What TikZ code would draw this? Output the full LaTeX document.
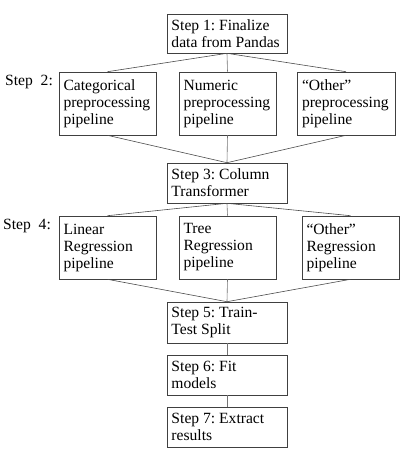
\documentclass[tikz,border=0pt]{standalone}
\usepackage{fontspec}
\setmainfont{Liberation Serif}
\usetikzlibrary{positioning}
\frenchspacing

\begin{document}
\begin{tikzpicture}[x=1pt, y=-1pt,
	stepbox/.style={draw=black!75, line width=0.6pt, inner xsep=4.5pt, align=flush left,
		font=\fontsize{15.6}{17}\selectfont, anchor=center},
	wide/.style={stepbox, minimum width=120pt, text width=111pt, minimum height=40pt},
	pipe/.style={stepbox, minimum width=97pt, text width=88pt, minimum height=63pt},
	link/.style={draw=black!70, line width=0.6pt},
	steplabel/.style={anchor=west, inner sep=0pt, font=\fontsize{15.6}{17}\selectfont}]
			%%%%% START %%%%%
			
			\useasboundingbox (0, 0) rectangle (410, 459);
			
			\node[wide, minimum height=39pt] (fin) at (227, 33.5) {Step 1: Finalize\\data from Pandas};
			
			\node[steplabel] (lbltwo) at (5, 82) {Step\ \ 2:};
			\node[pipe] (cat) at (107.5, 103.5) {Categorical\\preprocessing\\pipeline};
			\node[pipe] (num) at (227.5, 103.5) {Numeric\\preprocessing\\pipeline};
			\node[pipe, minimum width=98pt] (othpre) at (346, 103.5) {``Other''\\preprocessing\\pipeline};
			
			\node[wide] (coltr) at (227, 183) {Step 3: Column\\Transformer};
			
			\node[steplabel] (lblfour) at (3, 226) {Step\ \ 4:};
			\node[pipe] (lin) at (107.5, 247.5) {Linear\\Regression\\pipeline};
			\node[pipe] (tree) at (227.5, 247.5) {Tree\\Regression\\pipeline};
			\node[pipe] (othreg) at (350.5, 247.5) {``Other''\\Regression\\pipeline};
			
			\node[wide, minimum height=41pt] (split) at (227, 322.5) {Step 5: Train-\\Test Split};
			\node[wide] (fit) at (227, 375) {Step 6: Fit\\models};
			\node[wide] (res) at (227, 427) {Step 7: Extract\\results};
			
			\draw[link] (fin.south) -- (cat.north);
			\draw[link, draw=black!55] (fin.south) -- (num.north);
			\draw[link] (fin.south) -- (othpre.north);
			
			\draw[link] (cat.south) -- (coltr.north);
			\draw[link, draw=black!55] (num.south) -- (coltr.north);
			\draw[link] (othpre.south) -- (coltr.north);
			
			\draw[link] (coltr.south) -- (lin.north);
			\draw[link, draw=black!55] (coltr.south) -- (tree.north);
			\draw[link] (coltr.south) -- (othreg.north);
			
			\draw[link] (lin.south) -- (split.north);
			\draw[link, draw=black!55] (tree.south) -- (split.north);
			\draw[link] (othreg.south) -- (split.north);
			
			\draw[link, draw=black!55] (split.south) -- (fit.north);
			\draw[link, draw=black!55] (fit.south) -- (res.north);
			
			%%%%% END %%%%%
\end{tikzpicture}
\end{document}
